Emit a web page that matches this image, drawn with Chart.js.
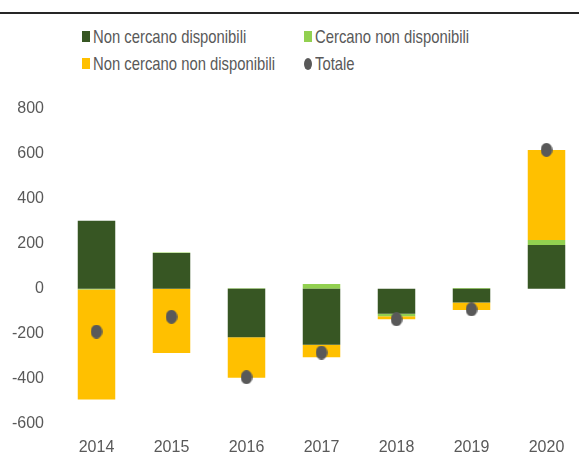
<!DOCTYPE html>
<html lang="it">
<head>
<meta charset="utf-8">
<script src="https://cdn.jsdelivr.net/npm/chart.js@4.4.1/dist/chart.umd.min.js"></script>
<style>
    body { margin: 0; background: #fff; overflow: hidden; }
    #wrap {
        position: relative; width: 579px; height: 475px; overflow: hidden;
        font-family: "Liberation Sans", Arial, sans-serif;
        color: #595959;
    }
    .rule { position: absolute; left: 0; top: 12px; width: 579px; height: 2px; background: #262626; }
    #legend {
        position: absolute; left: 82px; top: 23px;
        display: grid; grid-template-columns: 222px 200px; grid-auto-rows: 27px;
        font-size: 19px;
    }
    .item { display: flex; align-items: center; white-space: nowrap; }
    .mark { flex: 0 0 8px; width: 8px; height: 11px; margin-right: 3px; }
    .mark.dot { height: 12px; border-radius: 50%; }
    .txt { display: inline-block; transform: scaleX(0.78); transform-origin: left center; }
    .chartBox { position: absolute; left: 0; top: 0; width: 600px; height: 475px; }
</style>
</head>
<body>
<div id="wrap">
    <div class="rule"></div>
    <div id="legend"></div>
    <div class="chartBox"><canvas id="canvas"></canvas></div>
</div>
<script>
// Dati (migliaia)
const anni = ['2014', '2015', '2016', '2017', '2018', '2019', '2020'];
const nonCercanoDisponibili = [302, 159, -216, -249, -111, -61, 195];
const cercanoNonDisponibili = [-4, 2, 2, 21, -12, 3, 22];
const nonCercanoNonDisponibili = [-489, -286, -180, -56, -13, -34, 401];
const totale = [-191, -125, -394, -284, -136, -92, 618];

const grigio = '#595959';
const fontAssi = { family: '"Liberation Sans", Arial, sans-serif', size: 16 };

// punto ellittico come in Excel
const puntino = document.createElement('canvas');
puntino.width = 12;
puntino.height = 14;
const pc = puntino.getContext('2d');
pc.fillStyle = grigio;
pc.beginPath();
pc.ellipse(6, 7, 5.8, 7, 0, 0, Math.PI * 2);
pc.fill();

const chart = new Chart(document.querySelector('#canvas'), {
    type: 'bar',
    data: {
        labels: anni,
        datasets: [
            { label: 'Non cercano disponibili', data: nonCercanoDisponibili, backgroundColor: '#375623', order: 1 },
            { label: 'Cercano non disponibili', data: cercanoNonDisponibili, backgroundColor: '#92d050', order: 1 },
            { label: 'Non cercano non disponibili', data: nonCercanoNonDisponibili, backgroundColor: '#ffc000', order: 1 },
            {
                label: 'Totale', type: 'line', data: totale, stack: 'tot', order: 0,
                showLine: false, pointStyle: puntino, backgroundColor: grigio, borderColor: grigio
            }
        ]
    },
    options: {
        responsive: true,
        maintainAspectRatio: false,
        animation: false,
        layout: { padding: { top: 109, right: 16, left: 0, bottom: 0 } },
        datasets: { bar: { categoryPercentage: 1, barPercentage: 0.5 } },
        plugins: {
            legend: { display: false },
            tooltip: { enabled: false }
        },
        scales: {
            x: {
                stacked: true,
                grid: { display: false, drawTicks: false },
                border: { display: false },
                ticks: { color: grigio, font: fontAssi, padding: 14 },
                afterFit: (scale) => { scale.height = 51.5; }
            },
            y: {
                stacked: true,
                min: -600,
                max: 800,
                grid: { display: false, drawTicks: false },
                border: { display: false },
                ticks: { color: grigio, font: fontAssi, stepSize: 200, padding: 15 },
                afterFit: (scale) => { scale.width = 59; }
            }
        }
    }
});

// Legenda HTML su due colonne
const legenda = document.querySelector('#legend');
chart.data.datasets.forEach(ds => {
    const item = document.createElement('div');
    item.className = 'item';
    const mark = document.createElement('span');
    mark.className = ds.type === 'line' ? 'mark dot' : 'mark';
    mark.style.background = ds.backgroundColor;
    const txt = document.createElement('span');
    txt.className = 'txt';
    txt.textContent = ds.label;
    item.appendChild(mark);
    item.appendChild(txt);
    legenda.appendChild(item);
});
</script>
</body>
</html>
